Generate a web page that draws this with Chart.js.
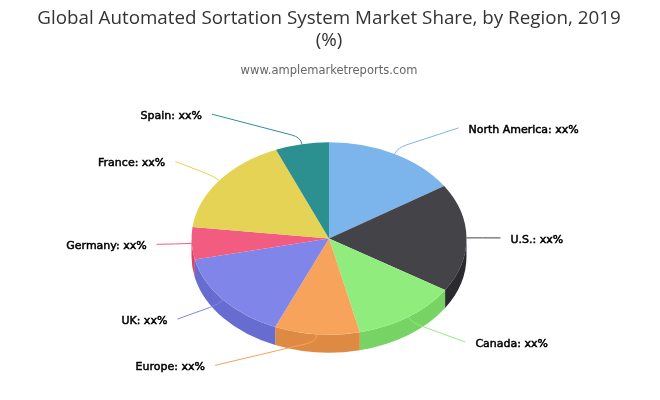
<!DOCTYPE html>
<html><head><meta charset="utf-8">
<style>html,body{margin:0;padding:0;background:#fff}#w{width:660px;height:400px}</style>
<script src="https://cdn.jsdelivr.net/npm/chart.js@4/dist/chart.umd.min.js"></script>
</head><body><div id="w"><canvas id="c"></canvas></div>
<script>
const categories = ['North America','U.S.','Canada','Europe','UK','Germany','France','Spain'];
const shares = [15.8,18.2,12.4,10.0,15.1,5.4,16.8,6.3];
const colors = ['#7cb5ec','#434348','#90ed7d','#f7a35c','#8085e9','#f15c80','#e4d354','#2b908f'];
const sideColors = ['#6a9cd3','#2a2a2f','#77d464','#de8a43','#676cd0','#d84367','#cbba3b','#127776'];
const labelSuffix = ': xx%';
const labelOffsets = [[64,-26],[34,0],[57,25],[-102,31],[-46,19],[-35,1],[-44,-19],[-90,-30]];
const titleLines = ['Global Automated Sortation System Market Share, by Region, 2019','(%)'];
const subtitleText = 'www.amplemarketreports.com';
const squash = 0.7, depth = 18;

function geom(chart){
  const a = chart.getDatasetMeta(0).data[0];
  return {cx:a.x, cy:a.y, rx:a.outerRadius, ry:a.outerRadius*squash};
}
const pie3d = {
  id:'pie3d',
  beforeDatasetsDraw(chart){
    const ctx = chart.ctx, g = geom(chart);
    // extruded side wall of every slice that faces the viewer
    chart.getDatasetMeta(0).data.forEach((arc,i)=>{
      const s = Math.max(arc.startAngle,0), e = Math.min(arc.endAngle,Math.PI);
      if (e<=s) return;
      ctx.save();
      ctx.fillStyle = sideColors[i];
      ctx.beginPath();
      ctx.ellipse(g.cx,g.cy,g.rx,g.ry,0,s,e,false);
      ctx.ellipse(g.cx,g.cy+depth,g.rx,g.ry,0,e,s,true);
      ctx.closePath();
      ctx.fill();
      ctx.restore();
    });
    ctx.save();
    ctx.translate(g.cx,g.cy); ctx.scale(1,squash); ctx.translate(-g.cx,-g.cy);
  },
  afterDatasetsDraw(chart){
    const ctx = chart.ctx;
    ctx.restore();
    const g = geom(chart);
    chart.getDatasetMeta(0).data.forEach((arc,i)=>{
      const mid = (arc.startAngle+arc.endAngle)/2;
      const ux = Math.cos(mid), uy = Math.sin(mid);
      const sx = g.cx+g.rx*ux, sy = g.cy+g.ry*uy;
      const ex = sx+labelOffsets[i][0], ey = sy+labelOffsets[i][1];
      const kx = sx+ux*7, ky = sy+uy*7;
      const d = Math.hypot(ex-kx,ey-ky)||1;
      const t = Math.min(9/d,1);
      ctx.save();
      ctx.strokeStyle = colors[i]; ctx.lineWidth = 1;
      ctx.beginPath();
      ctx.moveTo(sx,sy);
      ctx.quadraticCurveTo(kx,ky,kx+(ex-kx)*t,ky+(ey-ky)*t);
      ctx.lineTo(ex,ey);
      ctx.stroke();
      const right = labelOffsets[i][0] > 0;
      const tx = ex+(right?10:-10), ty = ey+2;
      ctx.font = '11px "DejaVu Sans"';
      ctx.textAlign = right?'left':'right';
      ctx.textBaseline = 'middle';
      ctx.fillStyle = '#000'; ctx.strokeStyle = '#000'; ctx.lineWidth = 0.5;
      const s = categories[i]+labelSuffix;
      ctx.fillText(s,tx,ty); ctx.strokeText(s,tx,ty);
      ctx.restore();
    });
  }
};
new Chart(document.getElementById('c'),{
  type:'pie',
  data:{labels:categories,datasets:[{data:shares,backgroundColor:colors,borderWidth:0,hoverOffset:0}]},
  plugins:[pie3d],
  options:{
    responsive:true,maintainAspectRatio:false,animation:false,
    layout:{padding:{top:0,bottom:24,left:0,right:2}},
    plugins:{
      legend:{display:false},tooltip:{enabled:false},
      title:{display:true,text:titleLines,color:'#333333',align:'center',
        font:{family:'"Open Sans"',size:18.8,weight:'normal',lineHeight:1.15},padding:{top:8,bottom:13}},
      subtitle:{display:true,text:subtitleText,color:'#666666',align:'center',
        font:{family:'"DejaVu Sans"',size:11.5,weight:'normal',lineHeight:1.2},padding:{top:0,bottom:23}}
    }
  }
});
</script></body></html>
